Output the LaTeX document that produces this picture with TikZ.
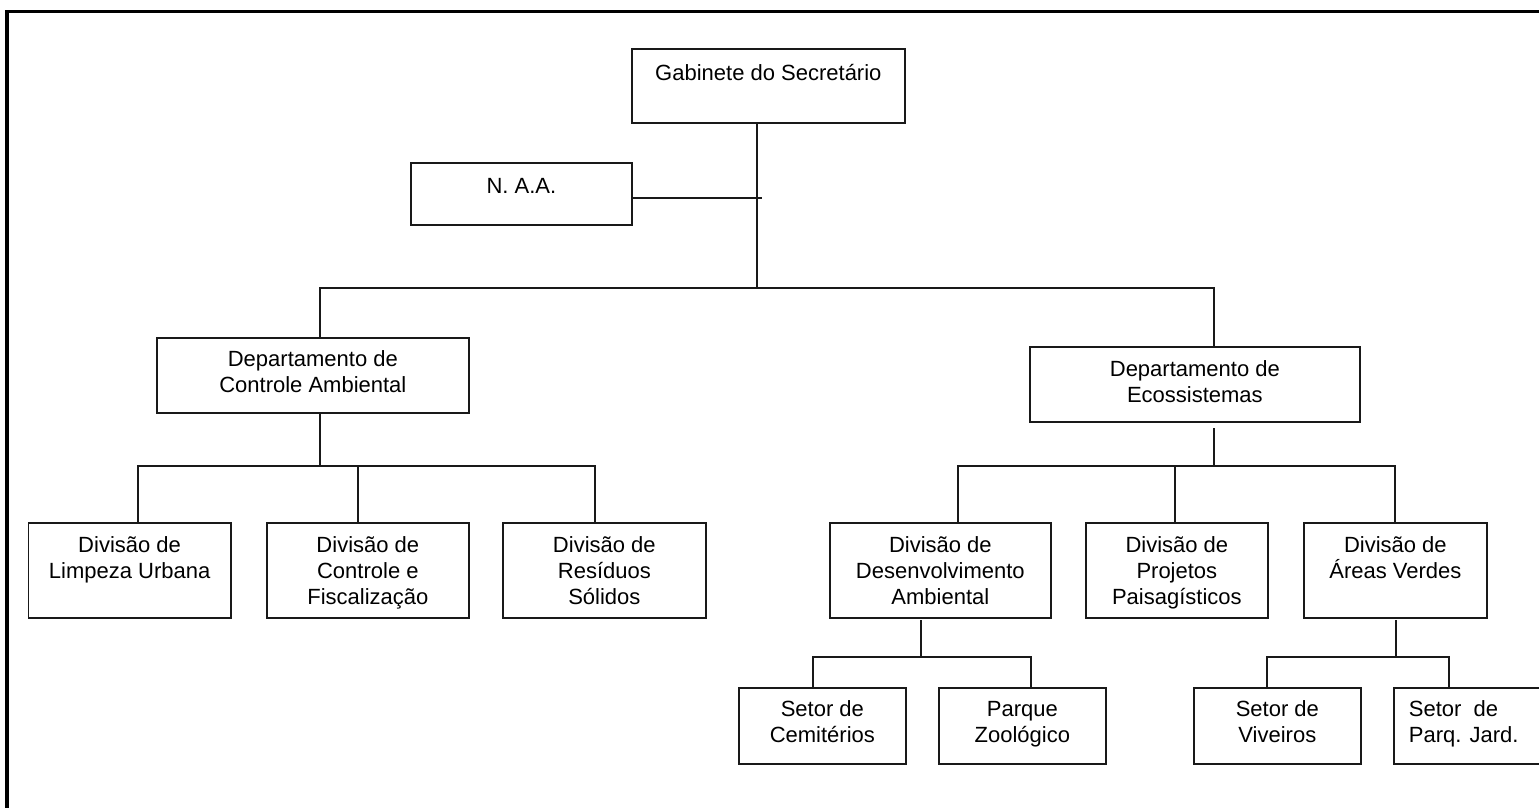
\documentclass[tikz,border=0pt]{standalone}
\usepackage{fontspec}
\setmainfont{Liberation Sans}
\newcommand{\orgbox}[4]{\parbox[t][#2][t]{#1}{\centering\rule{0pt}{#3}#4}}
\newcommand{\orgboxl}[4]{\parbox[t][#2][t]{#1}{\raggedright\rule{0pt}{#3}#4}}
\begin{document}
\begin{tikzpicture}[x=1pt,y=-1pt,
  box/.style={draw=black!90, line width=1.7pt, inner sep=0pt, anchor=north west,
              font=\fontsize{22}{26}\selectfont},
  con/.style={draw=black!90, line width=1.6pt},
  frame/.style={draw=black, line width=3.4pt}]
\useasboundingbox (0,0) rectangle (1539,807);
\path[frame] (7,11.5) rectangle (1600,870);

% boxes
\node[box] (gab) at (631,48)  {\orgbox{273pt}{74pt}{32pt}{Gabinete do Secretário}};
\node[box] (naa) at (410,162) {\orgbox{221pt}{62pt}{31pt}{N. A.A.}};
\node[box] (dca) at (156,337) {\orgbox{312pt}{75pt}{29pt}{Departamento de\\Controle Ambiental}};
\node[box] (dec) at (1029,346){\orgbox{330pt}{75pt}{30pt}{Departamento de\\Ecossistemas}};

\node[box] (d1) at (27.5,522) {\orgbox{202.5pt}{95pt}{30pt}{Divisão de\\Limpeza Urbana}};
\node[box] (d2) at (266,522)  {\orgbox{202pt}{95pt}{30pt}{Divisão de\\Controle e\\Fiscalização}};
\node[box] (d3) at (502,522)  {\orgbox{203pt}{95pt}{30pt}{Divisão de\\Resíduos\\Sólidos}};

\node[box] (dd) at (829,522)  {\orgbox{221pt}{95pt}{30pt}{Divisão de\\Desenvolvimento\\Ambiental}};
\node[box] (dp) at (1085,522) {\orgbox{182pt}{95pt}{30pt}{Divisão de\\Projetos\\Paisagísticos}};
\node[box] (da) at (1303,522) {\orgbox{183pt}{95pt}{30pt}{Divisão de\\Áreas Verdes}};

\node[box] (s1) at (738,687)  {\orgbox{167pt}{76pt}{29pt}{Setor de\\Cemitérios}};
\node[box] (s2) at (938,687)  {\orgbox{167pt}{76pt}{29pt}{Parque\\Zoológico}};
\node[box] (s3) at (1193,687) {\orgbox{167pt}{76pt}{29pt}{Setor de\\Viveiros}};
\node[box] (s4) at (1393,687) {\orgboxl{167pt}{76pt}{29pt}{\hspace*{15pt}Setor\ \ de\\\hspace*{15pt}Parq. Jard.}};

% connectors: top level
\coordinate (jt) at (757,288);
\draw[con] (gab.south -| jt) -- (jt);
\coordinate (naaj) at (762,198);
\draw[con] (naa.east |- naaj) -- (naaj);
\coordinate (bl) at (320,288);
\coordinate (br) at (1214,288);
\draw[con] (dca.north -| bl) -- (bl) -- (br) -- (br |- dec.north);

% Departamento de Controle Ambiental
\coordinate (ca) at (320,466);
\coordinate (cl) at (138,466);
\coordinate (cm) at (358,466);
\coordinate (cr) at (595,466);
\draw[con] (dca.south -| ca) -- (ca);
\draw[con] (d1.north -| cl) -- (cl) -- (cr) -- (d3.north -| cr);
\draw[con] (cm) -- (d2.north -| cm);

% Departamento de Ecossistemas
\coordinate (ea0) at (1214,428);
\coordinate (ea) at (1214,466);
\coordinate (el) at (958,466);
\coordinate (em) at (1175,466);
\coordinate (er) at (1395,466);
\draw[con] (ea0) -- (ea);
\draw[con] (dd.north -| el) -- (el) -- (er) -- (da.north -| er);
\draw[con] (em) -- (dp.north -| em);

% Divisao de Desenvolvimento Ambiental
\coordinate (da0) at (921,620);
\coordinate (dj) at (921,657);
\coordinate (dl) at (813,657);
\coordinate (dr) at (1031,657);
\draw[con] (da0) -- (dj);
\draw[con] (s1.north -| dl) -- (dl) -- (dr) -- (s2.north -| dr);

% Divisao de Areas Verdes
\coordinate (aa0) at (1396,620);
\coordinate (aj) at (1396,657);
\coordinate (al) at (1267,657);
\coordinate (ar) at (1449,657);
\draw[con] (aa0) -- (aj);
\draw[con] (s3.north -| al) -- (al) -- (ar) -- (s4.north -| ar);
\end{tikzpicture}
\end{document}
